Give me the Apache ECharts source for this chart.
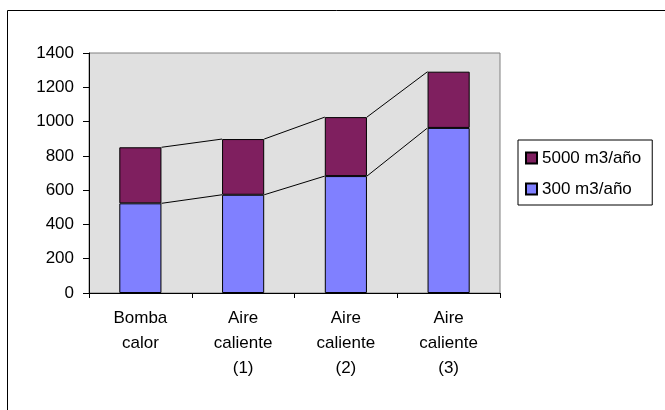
<!DOCTYPE html>
<html>
<head>
<meta charset="utf-8">
<script src="https://cdn.jsdelivr.net/npm/echarts@6/dist/echarts.min.js"></script>
<style>
  html, body { margin: 0; padding: 0; background: #fff; }
  #chart { width: 665px; height: 410px; }
</style>
</head>
<body>
<div id="chart"></div>
<script>
// Heating systems: annual cost stacked by water volume
const categories = ['Bomba\ncalor', 'Aire\ncaliente\n(1)', 'Aire\ncaliente\n(2)', 'Aire\ncaliente\n(3)'];
const seriesNames = ['300 m3/año', '5000 m3/año'];
const low = [523, 573, 682, 963];     // 300 m3/año
const high = [327, 325, 344, 328];    // 5000 m3/año (stacked on top)
const yTicks = { min: 0, max: 1400, interval: 200 };

const BAR_RATIO = 0.41;
const FONT = 'Liberation Sans, Arial, sans-serif';

// Segments joining neighbouring stacks (series lines)
const lineData = [];
for (let i = 0; i < categories.length - 1; i++) {
  lineData.push([i, low[i], low[i + 1], low[i] + high[i], low[i + 1] + high[i + 1]]);
}

const chart = echarts.init(document.getElementById('chart'), null, { renderer: 'canvas' });

chart.setOption({
  animation: false,
  backgroundColor: '#ffffff',
  textStyle: { fontFamily: FONT, color: '#000' },
  grid: {
    left: 89, right: 165, top: 53, bottom: 117,
    show: true, backgroundColor: '#e0e0e0', borderColor: '#808080', borderWidth: 1
  },
  legend: {
    orient: 'vertical',
    left: 518, top: 140,
    data: ['5000 m3/año', '300 m3/año'],
    icon: 'rect',
    itemWidth: 11, itemHeight: 11,
    itemGap: 11,
    padding: [8, 11, 6, 7],
    borderColor: '#000', borderWidth: 1,
    backgroundColor: '#fff',
    textStyle: { fontFamily: FONT, fontSize: 17, lineHeight: 20, color: '#000' }
  },
  xAxis: {
    type: 'category',
    data: categories,
    axisLine: { lineStyle: { color: '#000', width: 1 } },
    axisTick: { show: true, length: 5, inside: false, lineStyle: { color: '#000' } },
    axisLabel: { fontFamily: FONT, fontSize: 17, color: '#000', lineHeight: 25, margin: 13 },
    splitLine: { show: false }
  },
  yAxis: {
    type: 'value',
    min: yTicks.min, max: yTicks.max, interval: yTicks.interval,
    axisLine: { show: true, lineStyle: { color: '#000', width: 1 } },
    axisTick: { show: true, length: 6, lineStyle: { color: '#000' } },
    axisLabel: {
      fontFamily: FONT, fontSize: 17, color: '#000', margin: 15,
      formatter: function (v) { return String(v); }
    },
    splitLine: { show: false }
  },
  series: [
    {
      name: seriesNames[0], type: 'bar', stack: 'total', data: low,
      barWidth: (BAR_RATIO * 100) + '%',
      itemStyle: { color: '#8080ff', borderColor: '#000', borderWidth: 1 }
    },
    {
      name: seriesNames[1], type: 'bar', stack: 'total', data: high,
      barWidth: (BAR_RATIO * 100) + '%',
      itemStyle: { color: '#7f1f5f', borderColor: '#000', borderWidth: 1 }
    },
    {
      type: 'custom',
      silent: true,
      z: 1,
      encode: { x: 0, y: [1, 2, 3, 4] },
      data: lineData,
      renderItem: function (params, api) {
        const i = api.value(0);
        const half = api.size([1, 0])[0] * BAR_RATIO / 2;
        const a1 = api.coord([i, api.value(1)]);
        const b1 = api.coord([i + 1, api.value(2)]);
        const a2 = api.coord([i, api.value(3)]);
        const b2 = api.coord([i + 1, api.value(4)]);
        const style = { stroke: '#000', lineWidth: 1, fill: null };
        return {
          type: 'group',
          children: [
            { type: 'line', shape: { x1: a1[0] + half, y1: a1[1], x2: b1[0] - half, y2: b1[1] }, style: style },
            { type: 'line', shape: { x1: a2[0] + half, y1: a2[1], x2: b2[0] - half, y2: b2[1] }, style: style }
          ]
        };
      }
    }
  ],
  graphic: [
    {
      type: 'rect', silent: true, z: -1,
      shape: { x: 7.5, y: 10.5, width: 700, height: 450 },
      style: { fill: null, stroke: '#000', lineWidth: 1 }
    }
  ]
});
</script>
</body>
</html>
